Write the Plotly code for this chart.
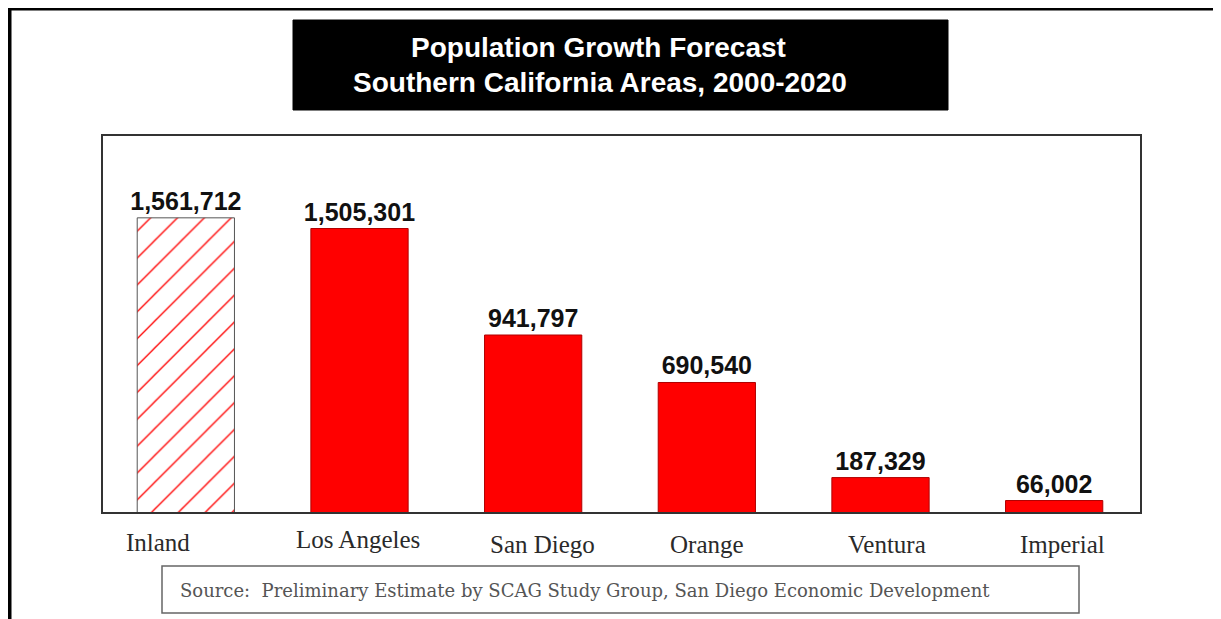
import plotly.graph_objects as go

# ---- data ----
categories = ["Inland", "Los Angeles", "San Diego", "Orange", "Ventura", "Imperial"]
growth = [1561712, 1505301, 941797, 690540, 187329, 66002]
title_lines = ["Population Growth Forecast", "Southern California Areas, 2000-2020"]
source_text = "Source:  Preliminary Estimate by SCAG Study Group, San Diego Economic Development"

# ---- styling ----
OFF = 8  # default page body margin
W, H = 1221 - OFF, 619 - OFF
L, R, T, B = 99, 1141, 135, 513  # plot area in page pixels


def px(x):
    return (x - L) / (R - L)


def py(y):
    return (B - y) / (B - T)


patterns = ["/", "", "", "", "", ""]
edge_colors = ["#555555", "#b00000", "#b00000", "#b00000", "#b00000", "#b00000"]
label_xshift = [-28, -2, 9, 0, 6, 8]
label_yshift = [2, 5, 0, 0, 0, 0]

fig = go.Figure()
fig.add_trace(go.Bar(
    x=categories,
    y=growth,
    width=0.56,
    marker=dict(
        color="#ff0000",
        line=dict(color=edge_colors, width=1),
        pattern=dict(shape=patterns, size=19, solidity=0.07, fillmode="replace"),
    ),
    texttemplate="%{y:,}",
    textposition="outside",
    constraintext="none",
    textfont=dict(family="Liberation Sans, Arial", size=25, color="#111111", weight="bold"),
    cliponaxis=False,
    showlegend=False,
))

shapes = [
    # outer frame
    dict(type="line", xref="paper", yref="paper", x0=px(9.5), x1=px(9.5), y0=py(7), y1=py(625),
         line=dict(color="black", width=4)),
    dict(type="line", xref="paper", yref="paper", x0=px(8), x1=px(1214), y0=py(9), y1=py(9),
         line=dict(color="black", width=3)),
    dict(type="line", xref="paper", yref="paper", x0=px(1214), x1=px(1214), y0=py(8), y1=py(625),
         line=dict(color="#888888", width=1.5)),
    # title box
    dict(type="rect", xref="paper", yref="paper", x0=px(293), x1=px(948), y0=py(20), y1=py(110),
         fillcolor="black", line=dict(color="black", width=1)),
    # plot box
    dict(type="rect", xref="paper", yref="paper", x0=px(102), x1=1, y0=0, y1=1,
         line=dict(color="#333333", width=2), layer="above"),
    # source box
    dict(type="rect", xref="paper", yref="paper", x0=px(162), x1=px(1079), y0=py(566), y1=py(613),
         fillcolor="white", line=dict(color="#666666", width=1.5)),
]

annotations = [
    dict(text=title_lines[0], xref="paper", yref="paper", x=px(598), y=py(47), yanchor="middle",
         showarrow=False, font=dict(family="Liberation Sans, Arial", size=28, color="white", weight="bold")),
    dict(text=title_lines[1], xref="paper", yref="paper", x=px(600), y=py(83), yanchor="middle",
         showarrow=False, font=dict(family="Liberation Sans, Arial", size=28, color="white", weight="bold")),
    dict(text=source_text, xref="paper", yref="paper", x=px(178), y=py(590), xanchor="left",
         yanchor="middle", showarrow=False,
         font=dict(family="DejaVu Serif", size=18, color="#555555")),
]
for c, dx, dy in zip(categories, label_xshift, label_yshift):
    annotations.append(dict(
        text=c, x=c, xref="x", yref="paper", y=py(544), yanchor="middle",
        xshift=dx, yshift=dy, showarrow=False,
        font=dict(family="Liberation Serif, Times New Roman", size=25, color="#2a2a2a"),
    ))

fig.update_layout(
    width=W, height=H,
    margin=dict(l=L - OFF, r=W - (R - OFF), t=T - OFF, b=H - (B - OFF)),
    paper_bgcolor="white",
    plot_bgcolor="white",
    shapes=shapes,
    annotations=annotations,
    xaxis=dict(showticklabels=False, showgrid=False, zeroline=False, showline=False, ticks=""),
    yaxis=dict(range=[0, 2000000], showticklabels=False, showgrid=False, zeroline=False,
               showline=False, ticks=""),
    font=dict(family="Liberation Sans, Arial"),
)

fig.write_html("out.html")
